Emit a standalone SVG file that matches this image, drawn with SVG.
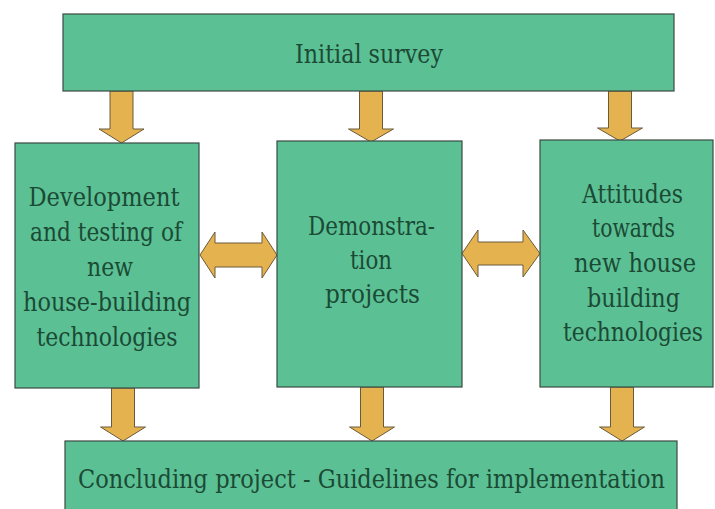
<svg xmlns="http://www.w3.org/2000/svg" width="715" height="509" viewBox="0 0 715 509">
<style>
.box{fill:#5cc095;stroke:#3a4a44;stroke-width:1.2}
.arr{fill:#e5b250;stroke:#6a5a3a;stroke-width:1}
.t{font-family:'DejaVu Serif',serif;font-size:26px;fill:#1a4a34;text-anchor:middle}
</style>
<rect width="715" height="509" fill="#ffffff"/>
<g id="connectors">
<polygon class="arr" points="110,91 133,91 133,129 144,129 121.5,143 99,129 110,129"/>
<polygon class="arr" points="359.5,91 382.5,91 382.5,129 393.5,129 371,142 348.5,129 359.5,129"/>
<polygon class="arr" points="608.5,91 631.5,91 631.5,128 642.5,128 620,141 597.5,128 608.5,128"/>
<polygon class="arr" points="111.5,388 134.5,388 134.5,427 145.5,427 123,441 100.5,427 111.5,427"/>
<polygon class="arr" points="360.5,387 383.5,387 383.5,427 394.5,427 372,441 349.5,427 360.5,427"/>
<polygon class="arr" points="610.5,387 633.5,387 633.5,427 644.5,427 622,441 599.5,427 610.5,427"/>
<polygon class="arr" points="200,255 215,232 215,243 262,243 262,232 277,255 262,278 262,267 215,267 215,278"/>
<polygon class="arr" points="462,253.5 478,230 478,242 523,242 523,230 540,253.5 523,277 523,265 478,265 478,277"/>
</g>
<g id="initial">
<rect class="box" x="63" y="14" width="611" height="77"/>
<text class="t" x="369" y="63" textLength="148" lengthAdjust="spacingAndGlyphs">Initial survey</text>
</g>
<g id="development">
<rect class="box" x="15" y="143" width="184" height="245"/>
<text class="t" x="104" y="206" textLength="151" lengthAdjust="spacingAndGlyphs">Development</text>
<text class="t" x="106" y="241" textLength="152" lengthAdjust="spacingAndGlyphs">and testing of</text>
<text class="t" x="110" y="276" textLength="46" lengthAdjust="spacingAndGlyphs">new</text>
<text class="t" x="107" y="311" textLength="168" lengthAdjust="spacingAndGlyphs">house-building</text>
<text class="t" x="107" y="346" textLength="141" lengthAdjust="spacingAndGlyphs">technologies</text>
</g>
<g id="demonstration">
<rect class="box" x="277" y="141" width="185" height="246"/>
<text class="t" x="371.5" y="235" textLength="127" lengthAdjust="spacingAndGlyphs">Demonstra-</text>
<text class="t" x="371" y="269" textLength="42" lengthAdjust="spacingAndGlyphs">tion</text>
<text class="t" x="372.5" y="303" textLength="95" lengthAdjust="spacingAndGlyphs">projects</text>
</g>
<g id="attitudes">
<rect class="box" x="540" y="140" width="173" height="247"/>
<text class="t" x="632.5" y="203" textLength="101" lengthAdjust="spacingAndGlyphs">Attitudes</text>
<text class="t" x="633.5" y="237" textLength="83" lengthAdjust="spacingAndGlyphs">towards</text>
<text class="t" x="635" y="272" textLength="122" lengthAdjust="spacingAndGlyphs">new house</text>
<text class="t" x="633.5" y="307" textLength="93" lengthAdjust="spacingAndGlyphs">building</text>
<text class="t" x="633" y="341" textLength="140" lengthAdjust="spacingAndGlyphs">technologies</text>
</g>
<g id="concluding">
<rect class="box" x="65" y="441" width="612" height="80"/>
<text class="t" x="371.5" y="488" textLength="587" lengthAdjust="spacingAndGlyphs">Concluding project - Guidelines for implementation</text>
</g>
</svg>
